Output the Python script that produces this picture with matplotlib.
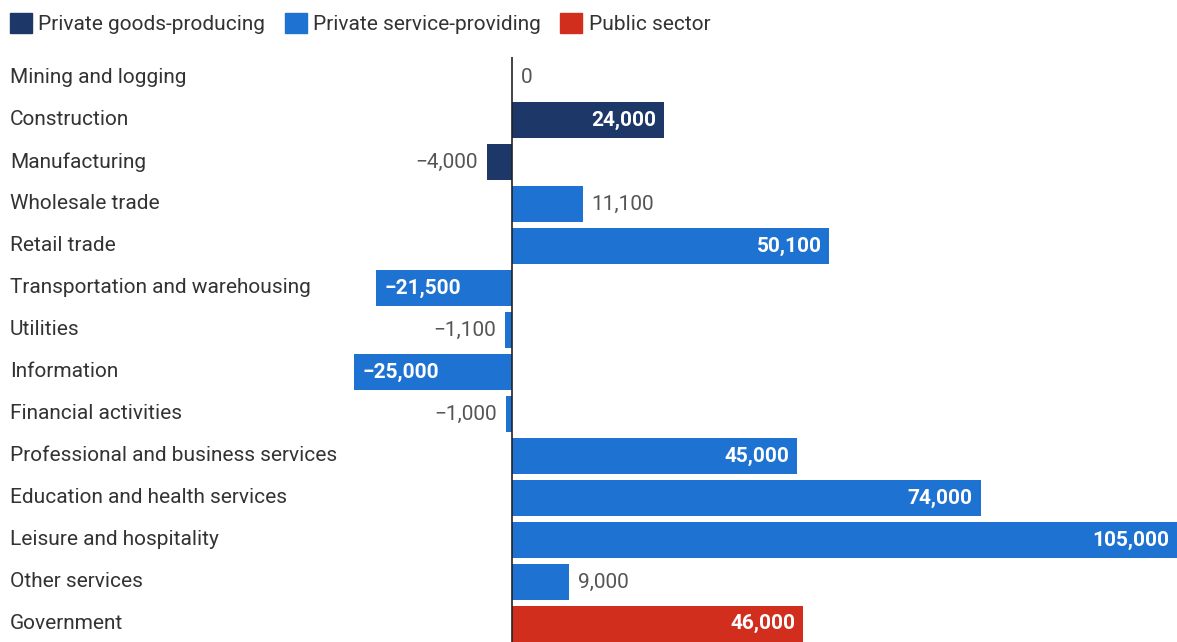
import matplotlib.pyplot as plt
from matplotlib.patches import Patch
from matplotlib.transforms import blended_transform_factory

plt.rcParams['font.family'] = ['Roboto', 'DejaVu Sans']

# data
industries = ['Mining and logging', 'Construction', 'Manufacturing', 'Wholesale trade',
              'Retail trade', 'Transportation and warehousing', 'Utilities', 'Information',
              'Financial activities', 'Professional and business services',
              'Education and health services', 'Leisure and hospitality',
              'Other services', 'Government']
changes = [0, 24000, -4000, 11100, 50100, -21500, -1100, -25000, -1000,
           45000, 74000, 105000, 9000, 46000]
sectors = ['goods', 'goods', 'goods', 'service', 'service', 'service', 'service',
           'service', 'service', 'service', 'service', 'service', 'service', 'public']

sector_names = {'goods': 'Private goods-producing',
                'service': 'Private service-providing',
                'public': 'Public sector'}
sector_colors = {'goods': '#1d3768', 'service': '#1e72d2', 'public': '#d12e1e'}

FS = 15

W, H = 1177, 642
fig = plt.figure(figsize=(W / 100, H / 100), dpi=100)
# zero line at x=512px, 105,000 reaches right edge
ax = fig.add_axes([354 / W, 0, (W - 354) / W, 585 / H])
ax.set_xlim(-25000, 105000)
ax.set_ylim(13.43, -0.5)

y = list(range(len(industries)))
colors = [sector_colors[s] for s in sectors]
ax.barh(y, changes, height=0.86, color=colors)
ax.axvline(0, color='#222222', lw=1.2)

for spine in ax.spines.values():
    spine.set_visible(False)
ax.set_xticks([])
ax.set_yticks([])

# category labels on the left edge of the figure
trans = blended_transform_factory(fig.transFigure, ax.transData)
for i, name in enumerate(industries):
    ax.text(10 / W, i, name, transform=trans, ha='left', va='center',
            fontsize=FS, color='#333333')

# value labels
px = 130000 / (W - 354)  # data units per pixel
for i, v in enumerate(changes):
    label = f'{abs(v):,}'
    if v < 0:
        label = '\u2212' + label
    width_px = abs(v) / px
    if width_px > 100:
        if v > 0:
            ax.text(v - 8 * px, i, label, ha='right', va='center', fontsize=FS,
                    color='white', fontweight='bold')
        else:
            ax.text(v + 8 * px, i, label, ha='left', va='center', fontsize=FS,
                    color='white', fontweight='bold')
    else:
        if v >= 0:
            ax.text(v + 9 * px, i, label, ha='left', va='center', fontsize=FS,
                    color='#555555')
        else:
            ax.text(v - 9 * px, i, label, ha='right', va='center', fontsize=FS,
                    color='#555555')

handles = [Patch(color=sector_colors[k], label=sector_names[k]) for k in ['goods', 'service', 'public']]
fig.legend(handles=handles, loc='upper left', bbox_to_anchor=(-9 / W, 1 + 6 / H), ncol=3,
           frameon=False, fontsize=FS, handlelength=1.05, handleheight=1.1,
           handletextpad=0.3, columnspacing=0.95, labelcolor='#333333')

fig.savefig('out.png', dpi=100, facecolor='white')
